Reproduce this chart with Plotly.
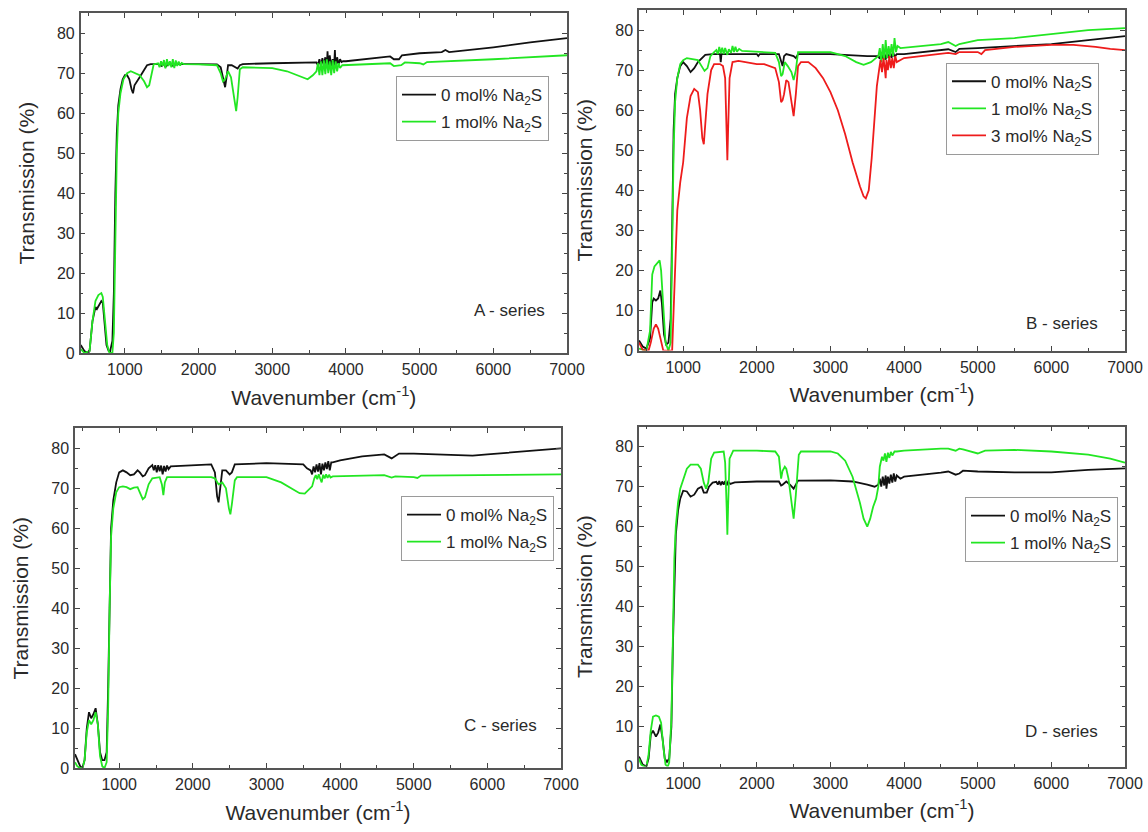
import plotly.graph_objects as go
from plotly.subplots import make_subplots

# ---------------- data (wavenumber cm^-1, transmission %) ----------------
A_0 = [(400,2),(450,0.5),(500,0),(520,0.5),(560,8),(600,11.5),(620,11),(650,12),(680,13),(700,12.5),
       (720,8),(750,2),(780,0.5),(800,0.5),(830,3),(850,15),(870,40),(890,55),(910,62),(940,66),(970,68.5),
       (1000,69.5),(1030,69.5),(1060,68.5),(1090,66),(1110,65),(1130,67),(1160,68),(1200,69),(1250,70.5),
       (1300,72),(1350,72.3),(1450,72.3),(1500,71.8),(1520,72.5),(1550,71.6),(1600,72.4),(1650,71.9),
       (1700,72.3),(2000,72.3),(2250,72.2),(2300,71.5),(2340,68),(2360,66.5),(2380,69),(2400,72),(2450,72),
       (2500,71.5),(2530,71.2),(2560,72),(2600,72.3),(3000,72.5),(3500,72.6),(3600,72.7),(3620,72),
       (3640,73.5),(3660,71.8),(3680,73.8),(3700,72),(3720,74),(3740,71.5),(3750,75.5),(3760,72),(3780,74.5),
       (3800,71.8),(3820,73.5),(3840,72),(3850,75.8),(3860,71.5),(3880,74),(3900,72.2),(3920,73.5),
       (3940,72.8),(3960,73),(4000,73),(4500,74),(4600,74.2),(4650,73.5),(4720,73.5),(4760,74.5),(5000,75),
       (5300,75.3),(5350,75.8),(5400,75.3),(5500,75.5),(6000,76.5),(6500,77.7),(6700,78.2),(7000,78.8)]
A_1 = [(400,1),(450,0),(520,0.5),(560,8),(600,13),(640,14.5),(680,15),(700,14),(730,8),(760,2),(790,0),
       (830,0),(850,5),(870,30),(890,50),(910,60),(940,65),(980,68.5),(1030,70),(1080,70.5),(1130,70),
       (1200,69.5),(1260,68),(1300,66.5),(1330,67),(1360,70),(1390,72.2),(1450,72.5),(1470,71.5),(1490,73),
       (1510,71.8),(1530,73.3),(1550,71.2),(1570,73.5),(1590,71.8),(1610,73),(1630,71.5),(1650,73.5),
       (1670,71.3),(1690,73.2),(1710,71.8),(1730,72.9),(1750,71.9),(1770,72.6),(1800,72.3),(2000,72.2),
       (2250,72),(2300,70),(2330,68),(2360,68.5),(2400,70.5),(2440,69),(2480,64),(2510,60.5),(2530,64),
       (2560,71),(2600,71.5),(3000,71.3),(3200,70.5),(3400,69),(3480,68.5),(3550,69.5),(3600,70.5),
       (3620,72.5),(3640,69.5),(3660,73),(3680,69.5),(3700,73.2),(3720,69.8),(3740,73.5),(3760,70),
       (3780,73),(3800,69.5),(3820,73.3),(3840,70),(3860,73),(3880,70.5),(3900,72.5),(3920,71.3),(3950,72),
       (4500,72.5),(4600,72.5),(4650,71.8),(4750,72),(4800,72.7),(5000,72.5),(5050,72.2),(5100,72.8),
       (6000,73.5),(7000,74.5)]

B_0 = [(400,2.5),(450,1),(500,0.5),(550,3),(580,12),(600,13),(630,12.5),(660,13),(690,15),(710,12),
       (740,4),(770,1.5),(800,2),(830,8),(850,30),(870,55),(890,64),(920,68),(960,71),(1000,72),(1050,71),
       (1100,69.5),(1150,70.5),(1200,72),(1300,73.8),(1400,74),(1500,74),(1510,72),(1520,74),(2000,74),
       (2020,73.5),(2040,74),(2300,74),(2330,72),(2350,71),(2370,73.5),(2400,74),(2500,73.5),(2530,73),
       (2560,74),(3000,74),(3500,73.5),(3650,73.5),(3670,72.8),(3690,74.2),(3710,72.9),(3730,74.3),
       (3750,72.6),(3770,74.4),(3790,73),(3810,74.3),(3830,73.1),(3850,74.5),(3870,73.3),(3900,74),
       (4000,74),(4500,75),(4600,75.2),(4700,74.5),(4750,75.3),(5000,75.5),(5500,76),(6000,76.5),
       (6500,77.5),(7000,78.5)]
B_1 = [(400,0.5),(500,0),(550,5),(580,19),(610,21),(650,22),(680,22.5),(700,20),(730,10),(760,2),(800,0),
       (830,2),(850,25),(870,50),(890,62),(920,68),(960,71.5),(1000,72.5),(1050,73),(1100,72.8),(1200,72.5),
       (1250,71),(1290,69.8),(1330,70.5),(1370,73.5),(1420,74.5),(1450,75),(1470,74),(1490,75.8),(1510,74.2),
       (1530,75.6),(1550,74),(1570,75.5),(1600,73.8),(1620,75.2),(1650,74.3),(1670,76),(1690,74.5),
       (1710,75.8),(1730,74.6),(1760,75.3),(1800,74.8),(2000,74.5),(2250,74.3),(2300,72),(2330,68.5),
       (2350,69),(2380,72),(2420,71),(2470,69.5),(2500,67.5),(2530,70),(2560,74.5),(3000,74.5),(3200,73.5),
       (3350,72),(3450,71.3),(3550,72),(3650,73.5),(3670,75.5),(3690,72),(3710,76.5),(3730,72.5),(3750,77.5),
       (3770,73),(3790,76),(3810,73.5),(3830,76.5),(3850,73.5),(3870,78),(3890,74.5),(3910,76),(3950,75.5),
       (4500,76.5),(4600,77),(4700,76),(4750,76.5),(5000,77.5),(5500,78),(6000,79),(6500,80),(7000,80.5)]
B_3 = [(400,2),(430,1),(450,0.2),(530,0),(560,2),(600,5.5),(630,6.5),(660,5.5),(700,2),(730,0),(850,0),
       (870,10),(890,25),(920,35),(960,42),(1000,47),(1050,58),(1100,63.5),(1150,65.3),(1200,64.5),
       (1230,60),(1260,53),(1280,51.5),(1300,56),(1330,64),(1380,70),(1420,71.5),(1500,71.5),(1540,71),
       (1570,68),(1590,55),(1600,47.5),(1610,55),(1630,68),(1670,72),(1750,72.3),(2000,71.5),(2100,71.5),
       (2250,70.5),(2300,67),(2330,62),(2350,62.5),(2370,64),(2400,67.5),(2430,67),(2470,62),(2500,58.5),
       (2530,64),(2560,71),(2600,72),(2700,72),(2800,70.5),(2900,68),(3000,64.5),(3100,60),(3200,54),
       (3300,47),(3400,41),(3450,38.5),(3480,38),(3520,40),(3560,48),(3600,58),(3630,66),(3660,70),
       (3680,72.5),(3700,69.5),(3720,73),(3740,70),(3750,68),(3760,72.5),(3780,70),(3800,73.5),(3820,70.5),
       (3840,73),(3860,70.5),(3880,73.5),(3900,72),(4000,73),(4500,74),(4600,74.3),(4700,74),(4750,74.5),
       (5000,74.5),(5050,74),(5100,75),(5500,75.8),(6000,76.3),(6300,76.3),(6600,75.8),(6800,75.3),(7000,75)]

C_0 = [(400,3.5),(430,2),(470,0.5),(500,0),(530,2),(560,10),(590,14),(620,12.5),(650,13.5),(680,15),
       (710,11),(740,4),(770,2),(800,2),(830,4),(850,20),(870,45),(890,60),(920,67),(960,71.5),(1000,74),
       (1050,74.5),(1100,74),(1150,73.3),(1200,73.5),(1250,74.5),(1280,74),(1320,73),(1350,73.3),(1400,75),
       (1450,75.8),(1470,74.5),(1490,75.8),(1510,74),(1530,75.8),(1550,74.3),(1570,75.7),(1590,73.5),
       (1610,75.6),(1630,74.2),(1650,75.7),(1670,74.8),(1700,75.5),(2000,75.8),(2250,76),(2300,74),
       (2330,68),(2350,66.5),(2370,70),(2400,74.5),(2450,74.5),(2500,73.5),(2530,74),(2570,76),(3000,76.3),
       (3500,76),(3550,75),(3600,74.5),(3620,73.5),(3640,75.5),(3660,74),(3680,76),(3700,74.2),(3720,76.3),
       (3740,73.5),(3760,76.2),(3780,74.5),(3800,76.5),(3820,74.8),(3840,76.8),(3860,74.5),(3880,76.5),
       (3900,76.5),(4000,77),(4300,78),(4600,78.5),(4700,77.5),(4750,78),(4800,78.7),(5000,78.7),
       (5500,78.5),(5800,78.2),(6000,78.5),(6500,79.2),(7000,80)]
C_1 = [(400,1.5),(430,0.5),(470,0),(500,0),(530,2),(560,9),(590,12),(620,11),(650,12),(680,14),(710,11),
       (740,3),(770,0.5),(800,0),(830,1.5),(850,15),(870,40),(890,58),(920,65),(960,69),(1000,70.3),
       (1050,70.5),(1100,70.3),(1150,69.8),(1200,70.2),(1250,70.3),(1280,69),(1320,67.3),(1350,67.8),
       (1400,71),(1450,72.5),(1550,72.8),(1580,71),(1600,68.3),(1620,71.5),(1650,72.8),(2000,72.8),
       (2250,72.8),(2300,72.5),(2350,71),(2400,71.5),(2450,70),(2490,65),(2510,63.5),(2530,66),(2570,72),
       (2600,72.8),(3000,72.8),(3200,71.5),(3350,70),(3450,68.8),(3520,68.7),(3580,69.8),(3620,70.5),
       (3650,72.5),(3670,73.3),(3690,72.3),(3710,73.5),(3730,72.4),(3750,71.5),(3770,73.4),(3790,72.5),
       (3810,73.5),(3830,72.6),(3850,73.4),(3870,72.7),(3900,73),(4500,73.3),(4600,73.3),(4700,72.7),
       (4750,73),(5000,72.8),(5050,72.6),(5100,73.2),(6000,73.4),(7000,73.5)]

D_0 = [(400,2.5),(450,0.5),(500,0),(530,2),(560,8),(590,9),(630,7.5),(660,8.5),(690,10.5),(720,7),(750,2),
       (780,1.2),(810,2),(840,10),(860,30),(880,48),(900,58),(930,64),(960,67),(1000,69),(1050,68.8),
       (1100,67.5),(1150,68),(1200,69.5),(1250,70),(1280,68.5),(1320,68.5),(1350,70),(1400,71),(1450,71.2),
       (1470,70.5),(1490,71.4),(1510,70.4),(1530,71.3),(1550,70.5),(1570,71.4),(1590,70.3),(1610,71.2),
       (1640,70.7),(1700,71.1),(2000,71.3),(2300,71.3),(2330,70.3),(2350,70.5),(2400,71.3),(2450,70.5),
       (2500,69.5),(2530,70.5),(2560,71.5),(3000,71.6),(3300,71.3),(3500,70.5),(3600,70),(3650,70.5),
       (3670,72),(3690,70),(3710,72.5),(3730,70.3),(3750,72.8),(3760,69.5),(3780,72.5),(3800,70.8),
       (3820,73),(3840,71),(3860,73.3),(3880,71.3),(3900,72.8),(3950,72),(4000,72.5),(4500,73.5),(4600,73.8),
       (4700,73),(4750,73.3),(4800,74),(5000,73.8),(5500,73.6),(6000,73.6),(6500,74.2),(7000,74.6)]
D_1 = [(400,2),(430,0.5),(470,0),(500,0),(530,3),(560,9),(590,12.5),(630,12.8),(670,12.5),(700,11),
       (730,5),(760,0.5),(790,0),(810,1),(840,12),(860,35),(880,52),(900,60),(930,66),(960,69.5),(1000,72),
       (1050,74.5),(1100,75.5),(1200,75.5),(1240,74.5),(1280,71),(1310,69.5),(1340,71),(1380,77),(1420,78.5),
       (1550,78.8),(1570,76),(1590,65),(1600,58),(1610,65),(1630,77),(1680,79),(2000,79),(2250,78.8),
       (2300,77.5),(2330,72),(2350,74),(2380,75),(2400,74.5),(2430,72),(2470,67),(2500,62),(2530,68),
       (2570,78),(2600,78.8),(3000,78.8),(3100,78.3),(3200,76.5),(3300,72.5),(3400,66),(3450,62),(3500,60),
       (3540,62),(3580,65),(3620,67),(3650,70),(3670,75),(3700,77.5),(3720,76.5),(3740,78.3),(3760,76.2),
       (3780,78.5),(3800,77.2),(3820,78.7),(3840,77.8),(3870,78.8),(3900,78.8),(4000,79),(4500,79.5),
       (4600,79.5),(4700,79),(4750,79.5),(4800,79.3),(5000,78.3),(5100,79),(5500,79.2),(6000,78.8),
       (6500,78),(6800,77),(7000,76)]

SERIES_NAMES = ["0 mol% Na<sub>2</sub>S", "1 mol% Na<sub>2</sub>S", "3 mol% Na<sub>2</sub>S"]
PANEL_LABELS = ["A - series", "B - series", "C - series", "D - series"]
X_TICKS = [1000, 2000, 3000, 4000, 5000, 6000, 7000]
Y_TICKS = [0, 10, 20, 30, 40, 50, 60, 70, 80]

# ---------------- styling ----------------
COLORS = ["#111111", "#22e622", "#ee1c1c"]
FONT = "Liberation Sans, Arial, sans-serif"
TXT = "#2a2a2a"
W, H = 1148, 832

panels = [
    [A_0, A_1],
    [B_0, B_1, B_3],
    [C_0, C_1],
    [D_0, D_1],
]
# pixel boxes (left, right, top, bottom)
boxes = [(80.7, 567, 13.3, 353), (639, 1125, 10, 350.6),
         (75, 561, 428.4, 768.2), (639, 1125, 426.7, 766.6)]
legend_pos = [(396, 108.5), (946, 108.7), (401, 528.5), (965, 529.5)]   # left, vertical centre
label_pos = [(547, 310.5), (1100, 323), (539, 725), (1100, 731)]

fig = make_subplots(rows=2, cols=2)

for i, curves in enumerate(panels):
    r, c = i // 2 + 1, i % 2 + 1
    lname = "legend" if i == 0 else f"legend{i+1}"
    for j, pts in enumerate(curves):
        xs = [p[0] for p in pts]
        ys = [p[1] for p in pts]
        fig.add_trace(go.Scatter(x=xs, y=ys, mode="lines", name=SERIES_NAMES[j],
                                 line=dict(color=COLORS[j], width=1.8),
                                 legend=lname, legendgroup=f"p{i}s{j}", showlegend=True),
                      row=r, col=c)

layout_upd = {}
for i in range(4):
    l, rgt, t, b = boxes[i]
    sx = "" if i == 0 else str(i + 1)
    layout_upd[f"xaxis{sx}"] = dict(
        domain=[l / W, rgt / W], range=[400, 7000], tickvals=X_TICKS,
        ticks="inside", ticklen=5, tickwidth=1.2, tickcolor="#444",
        minor=dict(ticks="inside", ticklen=3, dtick=500, tick0=0, tickcolor="#444"),
        showline=True, linecolor="#555", linewidth=1.5, mirror="allticks",
        showgrid=False, zeroline=False, automargin=False,
        tickfont=dict(family=FONT, size=16, color=TXT), ticklabelstandoff=1,
        title=dict(text="Wavenumber (cm<sup>-1</sup>)", font=dict(family=FONT, size=21, color=TXT), standoff=13),
    )
    layout_upd[f"yaxis{sx}"] = dict(
        domain=[1 - b / H, 1 - t / H], range=[0, 85], tickvals=Y_TICKS,
        ticks="inside", ticklen=5, tickwidth=1.2, tickcolor="#444",
        minor=dict(ticks="inside", ticklen=3, dtick=5, tick0=0, tickcolor="#444"),
        showline=True, linecolor="#555", linewidth=1.5, mirror="allticks",
        showgrid=False, zeroline=False, automargin=False,
        tickfont=dict(family=FONT, size=16, color=TXT), ticklabelstandoff=1,
        title=dict(text="Transmission (%)", font=dict(family=FONT, size=21, color=TXT), standoff=17),
    )
    lx, ly = legend_pos[i]
    lname = "legend" if i == 0 else f"legend{i+1}"
    layout_upd[lname] = dict(
        x=lx / W, y=1 - ly / H, xanchor="left", yanchor="middle",
        bordercolor="#9a9a9a", borderwidth=1, bgcolor="white",
        font=dict(family=FONT, size=17, color=TXT), itemwidth=34, tracegroupgap=2,
    )

fig.update_layout(**layout_upd)

for i, txt in enumerate(PANEL_LABELS):
    ax, ay = label_pos[i]
    fig.add_annotation(text=txt, x=ax / W, y=1 - ay / H, xref="paper", yref="paper",
                       xanchor="right", yanchor="middle", showarrow=False,
                       font=dict(family=FONT, size=17, color=TXT))

fig.update_layout(width=W, height=H, margin=dict(l=0, r=0, t=0, b=0),
                  paper_bgcolor="white", plot_bgcolor="white", font=dict(family=FONT))

fig.write_html("out.html", config={"displayModeBar": False},
               post_script="document.body.style.margin='0px';")
